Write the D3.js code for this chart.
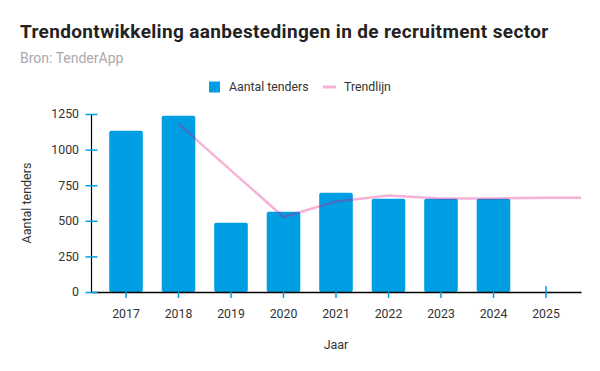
<!DOCTYPE html>
<html><head><meta charset="utf-8">
<script src="https://cdn.jsdelivr.net/npm/d3@7/dist/d3.min.js"></script>
<style>
body{margin:0;background:#fff;font-family:Roboto,"Noto Sans",sans-serif;}
</style></head>
<body><svg id="c" width="600" height="371"></svg>
<script>
const years = ["2017","2018","2019","2020","2021","2022","2023","2024","2025"];
const tenders = [1133, 1238, 487, 564, 697, 655, 655, 655, null];
const trendYears = ["2018","2020","2021","2022","2023","2024","2025"];
const trend = [1181, 527, 636, 678, 657, 657, 662];
const yTicks = [0, 250, 500, 750, 1000, 1250];

const svg = d3.select("#c");
const mLeft = 91, mRight = 581, mTop = 114, mBottom = 292;
const blue = "#009fe3";

svg.append("text").attr("x", 20).attr("y", 38).attr("font-size", 19).attr("font-weight", 700)
  .attr("letter-spacing", "0.35px")
  .attr("fill", "#222").text("Trendontwikkeling aanbestedingen in de recruitment sector");
svg.append("text").attr("x", 20).attr("y", 63).attr("font-size", 14)
  .attr("fill", "#aaa").text("Bron: TenderApp");

// legend
const lg = svg.append("g");
lg.append("rect").attr("x", 209).attr("y", 81.5).attr("width", 11).attr("height", 11).attr("fill", blue);
lg.append("text").attr("x", 229).attr("y", 91).attr("font-size", 12.3).attr("fill", "#333").text("Aantal tenders");
lg.append("rect").attr("x", 323).attr("y", 85.5).attr("width", 13).attr("height", 3).attr("fill", "#f7b3d6");
lg.append("text").attr("x", 344).attr("y", 91).attr("font-size", 12.3).attr("fill", "#333").text("Trendlijn");

const x = d3.scaleBand().domain(years).range([mLeft, mRight]).paddingInner(0.36).paddingOuter(0.347);
const y = d3.scaleLinear().domain([0, 1250]).range([mBottom, mTop]);

// bars
svg.append("g").selectAll("rect").data(years.map((d, i) => ({year: d, v: tenders[i]})).filter(d => d.v != null))
  .join("rect")
  .attr("x", d => x(d.year)).attr("width", x.bandwidth())
  .attr("y", d => y(d.v)).attr("height", d => y(0) - y(d.v))
  .attr("rx", 2).attr("fill", blue);

// trend line
const pts = trendYears.map((d, i) => [x(d) + x.bandwidth() / 2, y(trend[i])]);
pts.push([mRight, y(trend[trend.length - 1])]);
svg.append("path").attr("d", d3.line()(pts)).attr("fill", "none")
  .attr("stroke", "rgb(229,0,125)").attr("stroke-opacity", 0.3).attr("stroke-width", 2.5)
  .attr("stroke-linejoin", "round");

// y axis
const ya = svg.append("g").attr("transform", `translate(${mLeft},0)`)
  .call(d3.axisLeft(y).tickValues(yTicks).tickFormat(d3.format("d")).tickSize(0).tickPadding(12));
ya.select(".domain").attr("stroke", "#000").attr("stroke-width", 1.2);
ya.selectAll(".tick text").attr("font-size", 12.3).attr("fill", "#333").attr("font-family", "Roboto");
ya.selectAll(".tick").append("line").attr("x1", -5.5).attr("x2", 6.5).attr("stroke", blue).attr("stroke-width", 1.5);

// x axis
const xa = svg.append("g").attr("transform", `translate(0,${mBottom})`)
  .call(d3.axisBottom(x).tickSize(6).tickSizeOuter(0).tickPadding(11));
xa.select(".domain").attr("stroke", "#000").attr("stroke-width", 1.5);
xa.selectAll(".tick line").attr("stroke", blue).attr("stroke-width", 1.5)
  .attr("y1", d => tenders[years.indexOf(d)] == null ? -6 : 0);
xa.selectAll(".tick text").attr("font-size", 12.3).attr("fill", "#333").attr("font-family", "Roboto");
ya.raise();

svg.append("text").attr("transform", `translate(31,${(mTop + mBottom) / 2}) rotate(-90)`)
  .attr("text-anchor", "middle").attr("font-size", 12.5).attr("fill", "#333").text("Aantal tenders");
svg.append("text").attr("x", (mLeft + mRight) / 2).attr("y", 349).attr("text-anchor", "middle")
  .attr("font-size", 12.5).attr("fill", "#333").text("Jaar");
</script></body></html>
